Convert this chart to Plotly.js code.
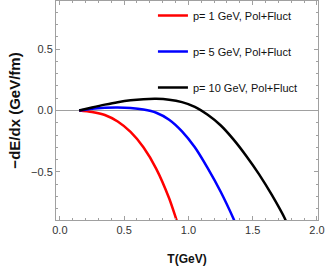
<!DOCTYPE html>
<html><head><meta charset="utf-8">
<script src="https://cdn.plot.ly/plotly-3.0.1.min.js"></script>
<style>html,body{margin:0;padding:0;background:#fff}#plot{width:327px;height:273px}</style>
</head><body><div id="plot"></div>
<script>
const names = ["p= 1 GeV, Pol+Fluct", "p= 5 GeV, Pol+Fluct", "p= 10 GeV, Pol+Fluct"];
const colors = ["#ff0000", "#0000ff", "#000000"];
const T1 = [0.15, 0.25, 0.35, 0.45, 0.55, 0.65, 0.75, 0.85, 0.91, 0.93];
const y1 = [0, -0.012, -0.037, -0.09, -0.175, -0.30, -0.475, -0.715, -0.90, -0.96];
const T5 = [0.15, 0.25, 0.35, 0.45, 0.55, 0.65, 0.75, 0.85, 0.95, 1.05, 1.15, 1.25, 1.35, 1.37];
const y5 = [0, 0.015, 0.022, 0.024, 0.02, 0.008, -0.018, -0.075, -0.17, -0.30, -0.47, -0.66, -0.88, -0.93];
const T10 = [0.15, 0.25, 0.35, 0.45, 0.55, 0.65, 0.75, 0.85, 0.95, 1.05, 1.15, 1.25, 1.35, 1.45, 1.55, 1.65, 1.75, 1.77];
const y10 = [0, 0.025, 0.048, 0.068, 0.083, 0.092, 0.095, 0.088, 0.068, 0.03, -0.035, -0.12, -0.235, -0.37, -0.52, -0.69, -0.88, -0.93];
const xs = [T1, T5, T10], ys = [y1, y5, y10];

const traces = xs.map((x, i) => ({
  x: x, y: ys[i], type: "scatter", mode: "lines", name: names[i],
  legendgroup: "g" + i,
  line: {color: colors[i], width: 2.5, shape: "spline", smoothing: 0.8},
  cliponaxis: true
}));

const axisCommon = {
  showline: true, linecolor: "#a0a0a0", linewidth: 1, mirror: "allticks",
  ticks: "inside", ticklen: 4, tickcolor: "#a0a0a0", showgrid: false, zeroline: false,
  tickfont: {family: "Liberation Sans, Arial, sans-serif", size: 11, color: "#333"}
};

const layout = {
  width: 327, height: 273,
  margin: {l: 56, r: 9, t: 1, b: 53},
  paper_bgcolor: "#fff", plot_bgcolor: "#fff",
  showlegend: true,
  legend: {x: 0.37, y: 1, xanchor: "left", yanchor: "top", bgcolor: "rgba(0,0,0,0)",
    font: {family: "Liberation Sans, Arial, sans-serif", size: 11, color: "#111"},
    tracegroupgap: 17},
  xaxis: Object.assign({}, axisCommon, {
    range: [-0.03, 2.008], tickvals: [0, 0.5, 1, 1.5, 2], ticktext: ["0.0", "0.5", "1.0", "1.5", "2.0"],
    minor: {dtick: 0.1, tick0: 0, ticks: "inside", ticklen: 2, tickcolor: "#a0a0a0"},
    title: {text: "T(GeV)", standoff: 19, font: {family: "Liberation Sans, Arial, sans-serif", size: 12, color: "#111", weight: "bold"}}
  }),
  yaxis: Object.assign({}, axisCommon, {
    range: [-0.892, 0.892], tickvals: [-0.5, 0, 0.5], ticktext: ["\u22120.5", "0.0", "0.5"],
    minor: {dtick: 0.1, tick0: 0, ticks: "inside", ticklen: 2, tickcolor: "#a0a0a0"},
    title: {text: "\u2212dE/dx (GeV/fm)", standoff: 6, font: {family: "Liberation Sans, Arial, sans-serif", size: 15, color: "#111", weight: "bold"}}
  }),
  shapes: [{type: "line", xref: "paper", x0: 0, x1: 1, yref: "y", y0: 0, y1: 0, line: {color: "#a0a0a0", width: 1}, layer: "below"}]
};
Plotly.newPlot("plot", traces, layout, {staticPlot: true, displayModeBar: false});
</script></body></html>
